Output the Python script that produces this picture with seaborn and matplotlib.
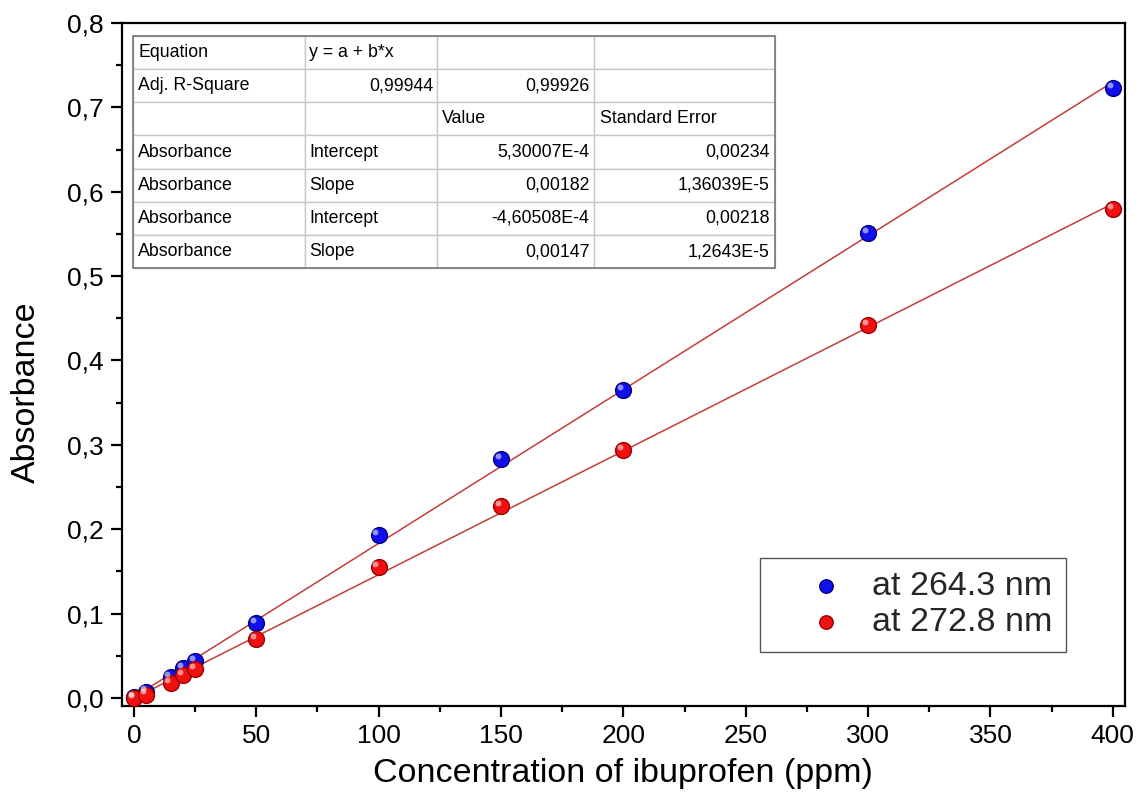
import matplotlib
matplotlib.use("Agg")
import matplotlib.pyplot as plt
import matplotlib.transforms as mtransforms
from matplotlib.ticker import MultipleLocator, FuncFormatter
import numpy as np
import pandas as pd
import seaborn as sns

# ---- data ----
concentration = [0, 5, 15, 20, 25, 50, 100, 150, 200, 300, 400]
abs_264 = [0.001, 0.0075, 0.025, 0.035, 0.044, 0.089, 0.193, 0.283, 0.365, 0.551, 0.723]
abs_272 = [0.0, 0.004, 0.018, 0.027, 0.034, 0.070, 0.155, 0.227, 0.294, 0.442, 0.579]
series_labels = ["at 264.3 nm", "at 272.8 nm"]

table_col0 = ["Equation", "Adj. R-Square", "", "Absorbance", "Absorbance", "Absorbance", "Absorbance"]
table_col1 = ["y = a + b*x", "0,99944", "", "Intercept", "Slope", "Intercept", "Slope"]
table_col2 = ["", "0,99926", "Value", "5,30007E-4", "0,00182", "-4,60508E-4", "0,00147"]
table_col3 = ["", "", "Standard Error", "0,00234", "1,36039E-5", "0,00218", "1,2643E-5"]

xticks = [0, 50, 100, 150, 200, 250, 300, 350, 400]
yticks = [0.0, 0.1, 0.2, 0.3, 0.4, 0.5, 0.6, 0.7, 0.8]

sns.set_theme(style="white")
plt.rcParams["font.family"] = ["Liberation Sans", "DejaVu Sans"]

fig = plt.figure(figsize=(11.44, 7.98), dpi=100)
ax = fig.add_axes([0.1064, 0.1153, 0.877, 0.8559])

df = pd.DataFrame({"c": concentration, "a264": abs_264, "a272": abs_272})

line_color = "#c43c3c"
for col in ["a264", "a272"]:
    sns.regplot(data=df, x="c", y=col, scatter=False, ci=None, truncate=True,
                line_kws={"color": line_color, "lw": 1.1, "zorder": 2}, ax=ax)

colors = [("#1010ee", "#00007a"), ("#f01010", "#9a0000")]
highlight = mtransforms.offset_copy(ax.transData, fig=fig, x=-2.3, y=2.3, units="points")
for col, lab, (fc, ec) in zip(["a264", "a272"], series_labels, colors):
    sns.scatterplot(data=df, x="c", y=col, s=130, color=fc, edgecolor=ec,
                    linewidth=1.0, zorder=3, ax=ax, label=lab)
    ax.scatter(df["c"], df[col], s=18, color="white", alpha=0.55, linewidths=0,
               zorder=4, transform=highlight)

ax.set_xlim(-5, 405)
ax.set_ylim(-0.0095, 0.8)
ax.set_xticks(xticks)
ax.set_yticks(yticks)
ax.xaxis.set_minor_locator(MultipleLocator(25))
ax.yaxis.set_minor_locator(MultipleLocator(0.05))
ax.yaxis.set_major_formatter(FuncFormatter(lambda v, p: f"{v:.1f}".replace(".", ",")))
ax.xaxis.set_major_formatter(FuncFormatter(lambda v, p: f"{v:.0f}"))
ax.tick_params(axis="both", which="major", direction="out", length=8, width=1.6,
               labelsize=19, color="black", labelcolor="black", bottom=True, left=True, pad=5)
ax.tick_params(axis="both", which="minor", direction="out", length=4.5, width=1.6,
               color="black", bottom=True, left=True)
for sp in ax.spines.values():
    sp.set_color("black")
    sp.set_linewidth(1.6)

ax.set_xlabel("Concentration of ibuprofen (ppm)", fontsize=24.5, color="black", labelpad=7)
ax.set_ylabel("Absorbance", fontsize=24.5, color="black")
ax.yaxis.set_label_coords(-0.080, 0.46)

# legend
handles, labels = ax.get_legend_handles_labels()
leg = ax.legend(handles[:2], labels[:2], loc="lower right", bbox_to_anchor=(0.941, 0.079),
                fontsize=24.5, frameon=True, fancybox=False, edgecolor="#555555",
                framealpha=1, markerscale=0.85, handletextpad=-0.2, borderpad=0.4,
                labelspacing=0.15, borderaxespad=0, handlelength=3.1)
leg.get_frame().set_linewidth(1.0)

# table
cell_text = [list(r) for r in zip(table_col0, table_col1, table_col2, table_col3)]
tbl = ax.table(cellText=cell_text, bbox=[0.0113, 0.641, 0.640, 0.340],
               colWidths=[0.268, 0.206, 0.245, 0.282], cellLoc="left", zorder=5)
tbl.auto_set_font_size(False)
for (r, c), cell in tbl.get_celld().items():
    cell.set_edgecolor("#c8c8c8")
    cell.set_linewidth(1.0)
    cell.set_facecolor("white")
    txt = cell.get_text()
    txt.set_fontsize(12.8)
    txt.set_color("black")
    val = cell_text[r][c]
    numeric = any(ch.isdigit() for ch in val) and c > 0 and "=" not in val
    cell.set_text_props(ha="right" if numeric else "left")
    cell.PAD = 0.03
# outer border
ax.add_patch(plt.Rectangle((0.0113, 0.641), 0.640, 0.340, transform=ax.transAxes,
                           fill=False, edgecolor="#777777", lw=1.2, zorder=6))

fig.savefig("out.png", dpi=100)
